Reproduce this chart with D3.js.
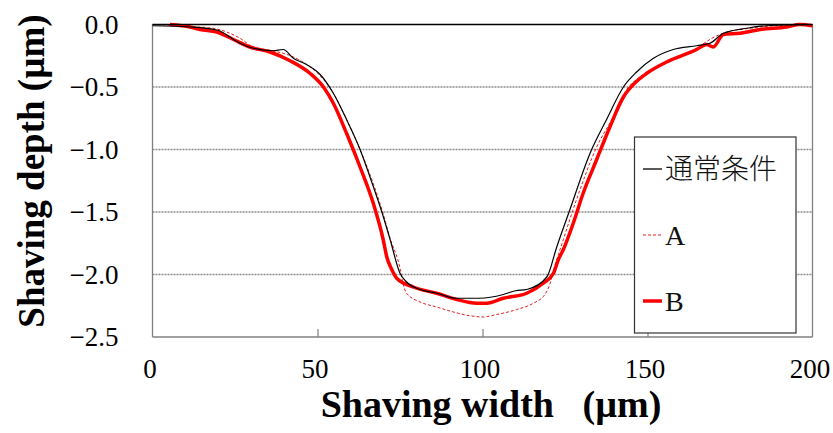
<!DOCTYPE html>
<html>
<head>
<meta charset="utf-8">
<script src="https://cdn.jsdelivr.net/npm/d3@7/dist/d3.min.js"></script>
<style>
  html, body { margin: 0; padding: 0; background: #fff; }
  svg { display: block; }
  text { font-family: "Liberation Serif", "Times New Roman", serif; }
</style>
</head>
<body>
<svg id="chart" width="833" height="433"></svg>
<script>
// Shaving profiles: width (µm) vs depth (µm)
const normalX = [0, 11.4, 19.5, 26.5, 30.5, 36.5, 39.6, 42.7, 46.7, 50.8, 54.8, 58.8, 62.9, 65.9, 69.5, 72.0, 75.0, 77.0, 81.1, 86.1, 92.2, 99.2, 106.3, 110.0, 113.4, 119.5, 122.5, 126.5, 132.6, 137.6, 142.7, 146.7, 151.8, 157.8, 164.9, 168.9, 173.0, 180.1, 186.1, 200];
const normalY = [-0.01, -0.02, -0.044, -0.15, -0.19, -0.21, -0.20, -0.27, -0.32, -0.40, -0.55, -0.76, -1.00, -1.22, -1.50, -1.72, -1.99, -2.06, -2.12, -2.15, -2.19, -2.19, -2.16, -2.13, -2.12, -2.02, -1.78, -1.48, -1.03, -0.76, -0.50, -0.38, -0.27, -0.20, -0.17, -0.15, -0.07, -0.03, -0.01, 0.0];

const aX = [0, 11.4, 18.3, 22.5, 26.5, 30.5, 36.5, 42.7, 46.7, 50.8, 54.8, 58.8, 62.9, 65.9, 69.5, 72.0, 75.0, 75.9, 77.0, 81.1, 86.1, 91.2, 96.2, 100.2, 104.3, 110.4, 115.4, 118.9, 120.5, 121.5, 124.5, 128.5, 134.6, 139.6, 143.7, 147.7, 151.8, 158.8, 164.9, 168.9, 174.0, 181.1, 188.1, 200];
const aY = [0, -0.016, -0.03, -0.06, -0.11, -0.18, -0.21, -0.26, -0.32, -0.41, -0.55, -0.76, -1.00, -1.20, -1.48, -1.71, -1.95, -2.07, -2.15, -2.22, -2.26, -2.30, -2.33, -2.34, -2.32, -2.28, -2.23, -2.16, -2.07, -1.97, -1.72, -1.40, -0.98, -0.74, -0.52, -0.42, -0.35, -0.26, -0.19, -0.12, -0.06, -0.03, -0.01, 0];

const bX = [5.3, 11.4, 14.4, 19.5, 24.5, 29.5, 35.6, 41.7, 47.7, 51.8, 54.8, 58.8, 62.9, 66.9, 69.9, 71.0, 72.5, 74.0, 79.0, 86.1, 92.2, 98.2, 101.3, 106.3, 113.4, 118.4, 121.5, 123.0, 124.5, 127.5, 130.5, 134.6, 138.6, 142.7, 145.7, 149.8, 155.8, 164.9, 167.9, 169.9, 173.0, 178.0, 184.1, 192.2, 196.2, 200];
const bY = [0.0, -0.02, -0.04, -0.06, -0.12, -0.18, -0.22, -0.29, -0.39, -0.50, -0.63, -0.87, -1.14, -1.43, -1.72, -1.86, -1.96, -2.03, -2.10, -2.15, -2.20, -2.23, -2.23, -2.19, -2.15, -2.07, -1.99, -1.88, -1.80, -1.59, -1.35, -1.08, -0.82, -0.58, -0.48, -0.39, -0.30, -0.20, -0.16, -0.18, -0.08, -0.07, -0.04, -0.02, 0.0, -0.01];

const xTicks = [0, 50, 100, 150, 200];
const yTicks = [0, -0.5, -1.0, -1.5, -2.0, -2.5];
const seriesNames = ["通常条件", "A", "B"];

const svg = d3.select("#chart");
const plotLeft = 152.5, plotRight = 812.5, plotTop = 24.5, plotBottom = 337;

const x = d3.scaleLinear().domain([0, 200]).range([plotLeft, plotRight]);
const y = d3.scaleLinear().domain([-2.5, 0]).range([plotBottom, plotTop]);

// Horizontal gridlines
svg.append("g").selectAll("line")
  .data(yTicks.filter(v => v < 0 && v > -2.5))
  .join("line")
  .attr("x1", plotLeft).attr("x2", plotRight)
  .attr("y1", d => y(d)).attr("y2", d => y(d))
  .attr("stroke", "#8c8c8c").attr("stroke-width", 1.4)
  .attr("stroke-dasharray", "2,1");

// Frame: left, bottom, right in grey
svg.append("line").attr("x1", plotLeft).attr("x2", plotLeft).attr("y1", plotTop).attr("y2", plotBottom)
  .attr("stroke", "#808080").attr("stroke-width", 1.3);
svg.append("line").attr("x1", plotLeft).attr("x2", plotRight).attr("y1", plotBottom).attr("y2", plotBottom)
  .attr("stroke", "#808080").attr("stroke-width", 1.3);
svg.append("line").attr("x1", plotRight).attr("x2", plotRight).attr("y1", plotTop).attr("y2", plotBottom)
  .attr("stroke", "#808080").attr("stroke-width", 1.3);

// Bottom axis: inward ticks + labels
const xAxis = d3.axisBottom(x).tickValues(xTicks).tickSize(-8).tickPadding(0).tickFormat(d3.format("d"));
const gx = svg.append("g").attr("transform", `translate(0,${plotBottom})`).call(xAxis);
gx.select(".domain").remove();
gx.selectAll(".tick line").attr("stroke", "#808080").attr("stroke-width", 1.2)
  .filter(d => d === 0 || d === 200).remove();
gx.selectAll(".tick text")
  .attr("dy", null).attr("y", 41).attr("x", -3)
  .attr("fill", "#000")
  .style("font-family", '"Liberation Serif", "Times New Roman", serif')
  .style("font-size", "27px");

// Left axis labels
const yAxis = d3.axisLeft(y).tickValues(yTicks).tickSize(0).tickPadding(34).tickFormat(d3.format(".1f"));
const gy = svg.append("g").attr("transform", `translate(${plotLeft},0)`).call(yAxis);
gy.select(".domain").remove();
gy.selectAll(".tick text")
  .attr("fill", "#000")
  .style("font-family", '"Liberation Serif", "Times New Roman", serif')
  .style("font-size", "27px");

// Series
const line = d3.line().x(d => x(d[0])).y(d => y(d[1])).curve(d3.curveMonotoneX);
const zip = (xs, ys) => xs.map((v, i) => [v, ys[i]]);

svg.append("path").datum(zip(aX, aY)).attr("d", line)
  .attr("fill", "none").attr("stroke", "#e02020").attr("stroke-width", 1)
  .attr("stroke-dasharray", "3,2");
svg.append("path").datum(zip(bX, bY)).attr("d", line)
  .attr("fill", "none").attr("stroke", "#ff0000").attr("stroke-width", 3.5)
  .attr("stroke-linejoin", "round");
svg.append("path").datum(zip(normalX, normalY)).attr("d", line)
  .attr("fill", "none").attr("stroke", "#000").attr("stroke-width", 1.2);

// Zero line
svg.append("line").attr("x1", plotLeft).attr("x2", plotRight).attr("y1", y(0)).attr("y2", y(0))
  .attr("stroke", "#000").attr("stroke-width", 1.5);

// Axis titles
svg.append("text")
  .attr("x", 491).attr("y", 417)
  .attr("text-anchor", "middle")
  .style("font-weight", "bold").style("font-size", "38px")
  .style("white-space", "pre")
  .text("Shaving width   (µm)");

svg.append("text")
  .attr("transform", "translate(44,171) rotate(-90)")
  .attr("text-anchor", "middle")
  .style("font-weight", "bold").style("font-size", "37px")
  .text("Shaving depth (µm)");

// Legend
const lg = svg.append("g");
lg.append("rect").attr("x", 634.5).attr("y", 137).attr("width", 161.5).attr("height", 196)
  .attr("fill", "#fff").attr("stroke", "#333").attr("stroke-width", 1.2);

const legendRows = [
  { name: seriesNames[0], cy: 169, stroke: "#000", width: 1.3, dash: null, font: '"Noto Sans CJK JP", sans-serif', size: "28px", weight: 300 },
  { name: seriesNames[1], cy: 235, stroke: "#e02020", width: 1, dash: "3,2", font: '"Liberation Serif", serif', size: "28px", weight: 400 },
  { name: seriesNames[2], cy: 301, stroke: "#ff0000", width: 3.5, dash: null, font: '"Liberation Serif", serif', size: "28px", weight: 400 }
];
legendRows.forEach(r => {
  lg.append("line").attr("x1", 643).attr("x2", 662).attr("y1", r.cy).attr("y2", r.cy)
    .attr("stroke", r.stroke).attr("stroke-width", r.width)
    .attr("stroke-dasharray", r.dash);
  lg.append("text").attr("x", 665).attr("y", r.cy).attr("dy", "0.35em")
    .style("font-family", r.font).style("font-size", r.size).style("font-weight", r.weight)
    .attr("fill", "#111")
    .text(r.name);
});
</script>
</body>
</html>
